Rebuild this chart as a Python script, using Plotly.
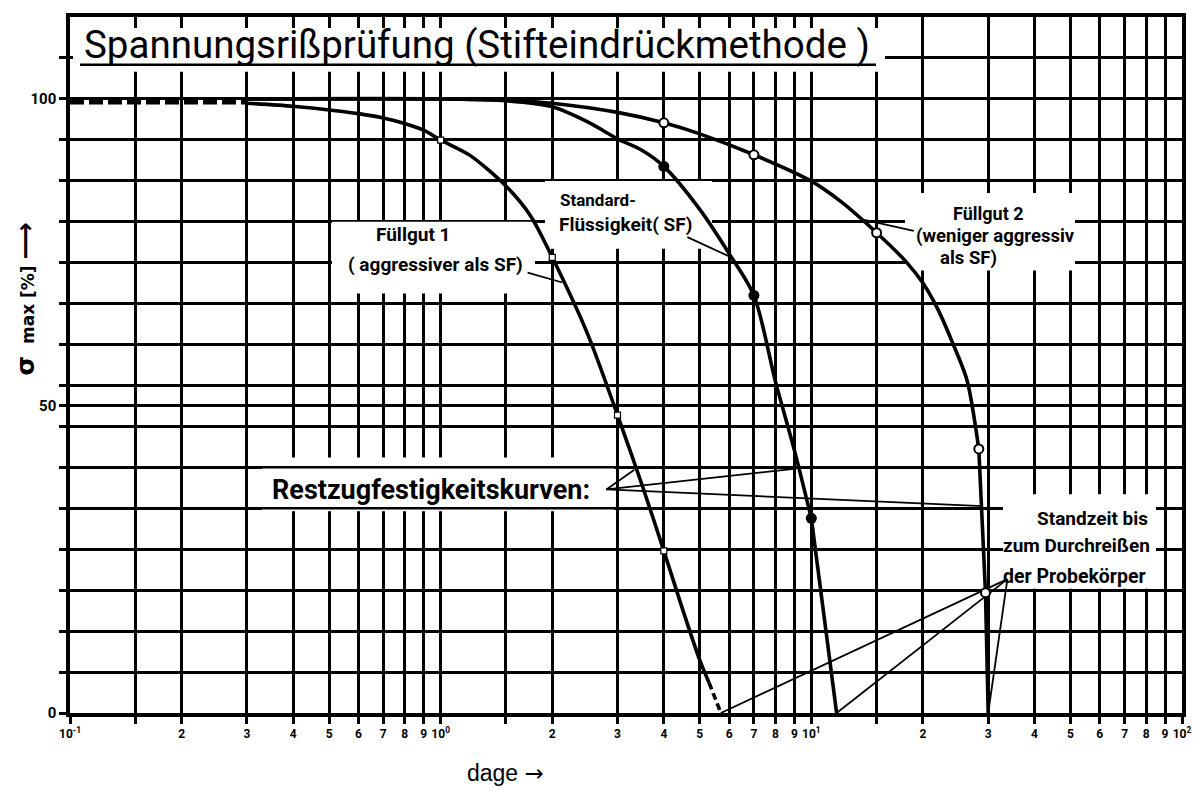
import plotly.graph_objects as go

# ---------------- values ----------------
Y_TOP = 113.333
START_X = [0.1, 0.3]
START_Y = [99.5, 99.5]

F1_X = [0.3, 0.4, 0.5, 0.6, 0.7, 0.8, 0.9, 1.0, 1.2, 1.5, 1.75, 2.0, 2.5, 3.0, 3.5, 4.0, 4.5, 5.0, 5.3]
F1_Y = [99.3, 98.8, 98.2, 97.6, 96.9, 96.0, 94.9, 93.3, 90.8, 85.8, 80.9, 74.2, 61.5, 48.5, 37.0, 26.4, 16.8, 8.6, 4.9]
F1_END_X = [5.3, 5.7]
F1_END_Y = [4.9, 0.0]
F1_PTS_X = [1.0, 2.0, 3.0, 4.0]
F1_PTS_Y = [93.3, 74.2, 48.5, 26.4]

SF_X = [0.3, 1.0, 1.5, 2.0, 2.5, 3.0, 3.5, 4.0, 5.0, 6.0, 7.0, 8.0, 9.0, 10.0]
SF_Y = [100, 100, 99.7, 98.7, 96.2, 93.5, 91.6, 89.0, 82.0, 74.8, 68.0, 54.0, 42.8, 31.7]
SF_END_X = [10.0, 11.7]
SF_END_Y = [31.7, 0.0]
SF_PTS_X = [4.0, 7.0, 10.0]
SF_PTS_Y = [89.0, 68.0, 31.7]

F2_X = [0.3, 1.0, 1.5, 2.0, 3.0, 4.0, 5.0, 7.0, 10.0, 12.0, 15.0, 18.0, 20.0, 22.0, 24.0, 26.3, 28.3]
F2_Y = [100, 100, 99.8, 99.3, 97.8, 96.1, 94.3, 90.9, 86.6, 83.3, 78.2, 73.5, 70.0, 65.6, 60.4, 54.2, 43.0]
F2_END_X = [28.3, 29.5, 30.0]
F2_END_Y = [43.0, 19.6, 0.0]
F2_PTS_X = [4.0, 7.0, 15.0, 28.3, 29.5]
F2_PTS_Y = [96.1, 90.9, 78.2, 43.0, 19.6]

# leader lines of the labels
LEAD_F1_X = [1.716, 2.13]
LEAD_F1_Y = [71.7, 70.1]
LEAD_SF_X = [4.63, 6.13]
LEAD_SF_Y = [77.5, 74.1]
LEAD_F2_X = [13.9, 18.9]
LEAD_F2_Y = [80.3, 78.5]
RZ_APEX = (2.80, 36.4)
RZ_ENDS_X = [3.33, 9.1, 29.0]
RZ_ENDS_Y = [39.6, 39.8, 33.7]
SZ_APEX = (33.8, 21.8)
SZ_ENDS_X = [5.7, 11.7, 30.0]
SZ_ENDS_Y = [0.0, 0.0, 0.0]

# axes ticks
X_TICKS, X_TEXT = [], []
for dec, lab in [(0.1, "10<sup>-1</sup>"), (1.0, "10<sup>0</sup>"), (10.0, "10<sup>1</sup>")]:
    for m, t in [(1, lab), (1.5, ""), (2, "2"), (3, "3"), (4, "4"), (5, "5"),
                 (6, "6"), (7, "7"), (8, "8"), (9, "9")]:
        X_TICKS.append(dec * m)
        X_TEXT.append(t)
X_TICKS.append(100.0)
X_TEXT.append("10<sup>2</sup>")

Y_TICKS = [k * 100 / 15 for k in range(17)] + [50]
Y_TEXT = ["0" if abs(v) < 1e-9 else ("100" if abs(v - 100) < 1e-6 else ("50" if v == 50 else "")) for v in Y_TICKS]

# ---------------- layout geometry (page pixels; page body has an 8px margin) ----------------
OFF = 8
PL, PR, PT, PB = 70, 1182, 13, 713          # plot area in page pixels
W, H = 1188, 789
ML, MT = PL - OFF, PT - OFF
MR, MB = W - (PR - OFF), H - (PB - OFF)
PW, PH = PR - PL, PB - PT


def xd(px):  # page pixel -> data (log axis)
    return 10 ** (-1 + 3 * (px - PL) / PW)


def yd(py):
    return (PB - py) / PH * Y_TOP


def xp(px):  # page pixel -> paper
    return (px - PL) / PW


def yp(py):
    return (PB - py) / PH


fig = go.Figure()

LW = 3.6
fig.add_trace(go.Scatter(x=START_X, y=START_Y, mode="lines",
                         line=dict(color="black", width=5, dash="14px,5px")))
fig.add_trace(go.Scatter(x=F1_X, y=F1_Y, mode="lines",
                         line=dict(color="black", width=LW, shape="spline", smoothing=0.8)))
fig.add_trace(go.Scatter(x=F1_END_X, y=F1_END_Y, mode="lines",
                         line=dict(color="black", width=LW, dash="7px,4px")))
fig.add_trace(go.Scatter(x=SF_X, y=SF_Y, mode="lines",
                         line=dict(color="black", width=LW, shape="spline", smoothing=0.8)))
fig.add_trace(go.Scatter(x=SF_END_X, y=SF_END_Y, mode="lines",
                         line=dict(color="black", width=LW)))
fig.add_trace(go.Scatter(x=F2_X, y=F2_Y, mode="lines",
                         line=dict(color="black", width=LW, shape="spline", smoothing=0.8)))
fig.add_trace(go.Scatter(x=F2_END_X, y=F2_END_Y, mode="lines",
                         line=dict(color="black", width=LW)))


def leader(ax, ay, ex, ey):
    xs, ys = [], []
    for x, y in zip(ex, ey):
        xs += [ax, x, None]
        ys += [ay, y, None]
    return xs, ys


lx, ly = [], []
for xs, ys in [(LEAD_F1_X, LEAD_F1_Y), (LEAD_SF_X, LEAD_SF_Y), (LEAD_F2_X, LEAD_F2_Y)]:
    lx += xs + [None]
    ly += ys + [None]
a, b = leader(RZ_APEX[0], RZ_APEX[1], RZ_ENDS_X, RZ_ENDS_Y)
lx += a
ly += b
a, b = leader(SZ_APEX[0], SZ_APEX[1], SZ_ENDS_X, SZ_ENDS_Y)
lx += a
ly += b
fig.add_trace(go.Scatter(x=lx, y=ly, mode="lines", line=dict(color="black", width=1.8)))

fig.add_trace(go.Scatter(x=F1_PTS_X, y=F1_PTS_Y, mode="markers",
                         marker=dict(symbol="square", size=6, color="white",
                                     line=dict(color="black", width=1.2))))
fig.add_trace(go.Scatter(x=SF_PTS_X, y=SF_PTS_Y, mode="markers",
                         marker=dict(symbol="circle", size=11, color="black")))
fig.add_trace(go.Scatter(x=F2_PTS_X, y=F2_PTS_Y, mode="markers",
                         marker=dict(symbol="circle", size=9, color="white",
                                     line=dict(color="black", width=2))))

# white label boxes that interrupt the grid (page pixels x0, y0, x1, y1)
BOXES = [(73, 24, 885, 68), (332, 219, 535, 291), (545, 178, 712, 246),
         (905, 190, 1075, 268), (262, 456, 614, 510), (1003, 493, 1156, 588)]
shapes = []
for x0, y0, x1, y1 in BOXES:
    shapes.append(dict(type="rect", xref="x", yref="y", layer="between",
                       x0=xd(x0), x1=xd(x1), y0=yd(y1), y1=yd(y0),
                       fillcolor="white", line=dict(width=0)))
for gy in [40.0, 100 / 3]:
    shapes.append(dict(type="line", xref="x", yref="y", layer="between",
                       x0=xd(262), x1=xd(614), y0=gy, y1=gy,
                       line=dict(color="black", width=2.5)))
shapes.append(dict(type="line", xref="paper", yref="paper", layer="above",
                   x0=xp(80), x1=xp(876), y0=yp(61), y1=yp(61),
                   line=dict(color="black", width=2.5)))


def lbl(size=18):
    return dict(family="Roboto", size=size, color="black", weight="bold")


def ann(text, x, y, anchor="center", font=None, **kw):
    return dict(text=text, x=xp(x), y=yp(y), xref="paper", yref="paper",
                xanchor=anchor, yanchor="middle", showarrow=False,
                font=font if font else lbl(), **kw)


annotations = [
    ann("Spannungsrißprüfung (Stifteindrückmethode )", 82, 41, "left",
        dict(family="Roboto", size=38.5, color="black", weight=400)),
    ann("Füllgut 1", 413, 232, font=lbl(19)),
    ann("( aggressiver als SF)", 435, 262, font=lbl(19)),
    ann("Standard-", 558, 197, "left", font=lbl(17)),
    ann("Flüssigkeit( SF)", 557, 222, "left", font=lbl(19)),
    ann("Füllgut 2", 988, 211, font=lbl(18)),
    ann("(weniger aggressiv", 914, 233, "left", font=lbl(18.5)),
    ann("als SF)", 938, 255, "left", font=lbl(18.5)),
    ann("Restzugfestigkeitskurven:", 270, 489, "left",
        dict(family="Roboto", size=27, color="black", weight="bold")),
    ann("Standzeit bis", 1150, 517, "right", font=lbl(19)),
    ann("zum Durchreißen", 1152, 545, "right", font=lbl(19)),
    ann("der Probekörper", 1148, 576, "right", font=lbl(19.5)),
    ann("<span style='font-size:25px'>σ</span>  max [%] <span style='font-size:26px'>⟶</span>",
        25, 297, "center",
        dict(family="DejaVu Sans", size=17, color="black", weight="bold"), textangle=-90),
    ann("dage <span style='font-family:DejaVu Sans'>→</span>", 505, 773, "center",
        dict(family="Liberation Sans", size=23, color="black")),
]

axis_common = dict(showgrid=True, gridcolor="black", gridwidth=2.5, zeroline=False,
                   showline=True, linecolor="black", linewidth=3.5, mirror=True,
                   ticks="outside", ticklen=7, tickwidth=2.5, tickcolor="black")

fig.update_layout(
    width=W, height=H, showlegend=False,
    margin=dict(l=ML, r=MR, t=MT, b=MB),
    paper_bgcolor="white", plot_bgcolor="white",
    xaxis=dict(type="log", range=[-1, 2], tickmode="array", tickvals=X_TICKS, ticktext=X_TEXT,
               tickfont=dict(family="Roboto", size=12, color="black", weight="bold"),
               tickangle=0, **axis_common),
    yaxis=dict(range=[0, Y_TOP], tickmode="array", tickvals=Y_TICKS, ticktext=Y_TEXT,
               tickfont=dict(family="Roboto", size=15, color="black", weight="bold"),
               **axis_common),
    shapes=shapes, annotations=annotations,
)

fig.write_html("out.html")
